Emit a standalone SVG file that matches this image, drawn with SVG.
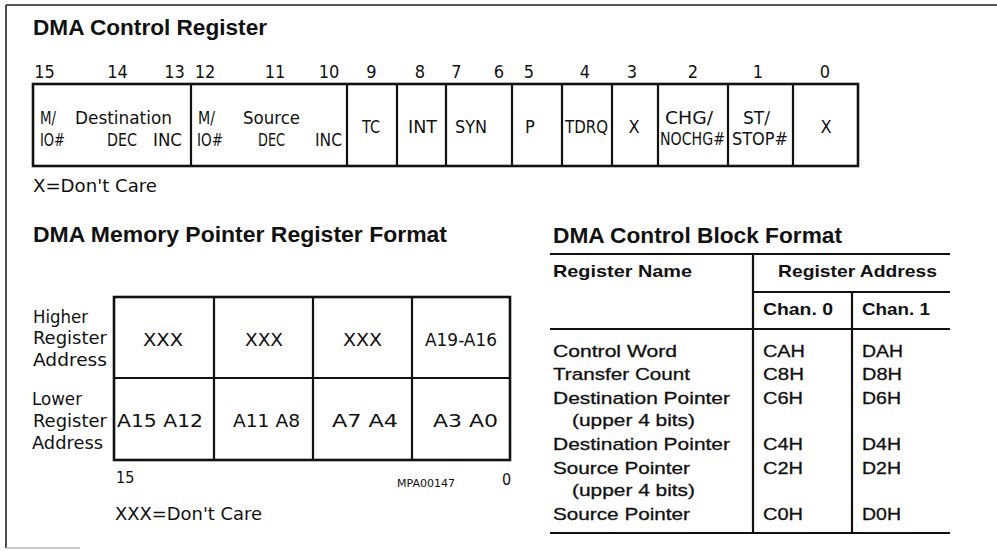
<svg xmlns="http://www.w3.org/2000/svg" width="997" height="551" viewBox="0 0 997 551">
<style>
text{fill:#111}
.hd{font-family:"Liberation Sans",Arial,sans-serif;font-weight:bold;font-size:22px}
.rg{font-family:"DejaVu Sans Condensed","DejaVu Sans",sans-serif;font-size:18px}
.sm{font-family:"DejaVu Sans Condensed","DejaVu Sans",sans-serif;font-size:11px}
.tb{font-family:"Liberation Sans",Arial,sans-serif;font-size:17px;stroke:#111;stroke-width:0.3}
.tbb{font-family:"Liberation Sans",Arial,sans-serif;font-size:17px;font-weight:bold}
.mid{text-anchor:middle}
.box{fill:#fff;stroke:#111;stroke-width:2.6}
.div{stroke:#111;stroke-width:2.2;fill:none}
.rule{stroke:#111;stroke-width:2.2;fill:none}
.frame{stroke:#222;stroke-width:1.6;fill:none}
</style>
<rect width="997" height="551" fill="#fff"/>
<g id="frame">
<path class="frame" d="M6,5 H997 M6,5 V548"/>
<path d="M6,548 H80" stroke="#bbb" stroke-width="1.5"/>
</g>

<!-- DMA Control Register -->
<g id="control-register">
<text class="hd" x="33" y="35" textLength="234" lengthAdjust="spacingAndGlyphs">DMA Control Register</text>
<g id="bit-numbers" class="rg mid">
<text x="44.5" y="78">15</text><text x="117.5" y="78">14</text><text x="174.5" y="78">13</text>
<text x="205" y="78">12</text><text x="275" y="78">11</text><text x="329" y="78">10</text>
<text x="371.5" y="78">9</text><text x="420" y="78">8</text><text x="456.5" y="78">7</text>
<text x="499" y="78">6</text><text x="529" y="78">5</text><text x="585" y="78">4</text>
<text x="632" y="78">3</text><text x="693" y="78">2</text><text x="758" y="78">1</text>
<text x="825" y="78">0</text>
</g>
<rect class="box" x="33" y="84" width="825" height="82"/>
<path class="div" d="M191,84V166 M347,84V166 M397,84V166 M446,84V166 M512,84V166 M562,84V166 M612,84V166 M658,84V166 M728,84V166 M793,84V166"/>
<g id="cell-dest">
<text class="rg" x="40" y="124" textLength="16" lengthAdjust="spacingAndGlyphs">M/</text>
<text class="rg" x="75" y="124" textLength="97" lengthAdjust="spacingAndGlyphs">Destination</text>
<text class="rg" x="40" y="146" textLength="25" lengthAdjust="spacingAndGlyphs">IO#</text>
<text class="rg" x="107" y="146" textLength="30" lengthAdjust="spacingAndGlyphs">DEC</text>
<text class="rg" x="153" y="146" textLength="29" lengthAdjust="spacingAndGlyphs">INC</text>
</g>
<g id="cell-src">
<text class="rg" x="198" y="124" textLength="17" lengthAdjust="spacingAndGlyphs">M/</text>
<text class="rg" x="243" y="124" textLength="57" lengthAdjust="spacingAndGlyphs">Source</text>
<text class="rg" x="197" y="146" textLength="26" lengthAdjust="spacingAndGlyphs">IO#</text>
<text class="rg" x="258" y="146" textLength="27" lengthAdjust="spacingAndGlyphs">DEC</text>
<text class="rg" x="315" y="146" textLength="27" lengthAdjust="spacingAndGlyphs">INC</text>
</g>
<g id="cell-tc"><text class="rg" x="362" y="133" textLength="18" lengthAdjust="spacingAndGlyphs">TC</text></g>
<g id="cell-int"><text class="rg" x="408" y="133" textLength="29" lengthAdjust="spacingAndGlyphs">INT</text></g>
<g id="cell-syn"><text class="rg" x="455" y="133" textLength="32" lengthAdjust="spacingAndGlyphs">SYN</text></g>
<g id="cell-p"><text class="rg mid" x="530" y="133">P</text></g>
<g id="cell-tdrq"><text class="rg" x="565" y="133" textLength="43" lengthAdjust="spacingAndGlyphs">TDRQ</text></g>
<g id="cell-x3"><text class="rg mid" x="634" y="133">X</text></g>
<g id="cell-chg">
<text class="rg" x="665" y="124" textLength="48" lengthAdjust="spacingAndGlyphs">CHG/</text>
<text class="rg" x="660" y="145" textLength="65" lengthAdjust="spacingAndGlyphs">NOCHG#</text>
</g>
<g id="cell-st">
<text class="rg" x="743" y="124" textLength="27" lengthAdjust="spacingAndGlyphs">ST/</text>
<text class="rg" x="732" y="145" textLength="56" lengthAdjust="spacingAndGlyphs">STOP#</text>
</g>
<g id="cell-x0"><text class="rg mid" x="826" y="133">X</text></g>
<text class="rg" x="33" y="192" textLength="124" lengthAdjust="spacingAndGlyphs">X=Don't Care</text>
</g>

<!-- DMA Memory Pointer Register Format -->
<g id="memory-pointer">
<text class="hd" x="33" y="242" textLength="414" lengthAdjust="spacingAndGlyphs">DMA Memory Pointer Register Format</text>
<g id="label-higher">
<text class="rg" x="33" y="323" textLength="55" lengthAdjust="spacingAndGlyphs">Higher</text>
<text class="rg" x="33" y="344" textLength="74" lengthAdjust="spacingAndGlyphs">Register</text>
<text class="rg" x="33" y="366" textLength="74" lengthAdjust="spacingAndGlyphs">Address</text>
</g>
<g id="label-lower">
<text class="rg" x="32" y="405" textLength="50" lengthAdjust="spacingAndGlyphs">Lower</text>
<text class="rg" x="33" y="427" textLength="74" lengthAdjust="spacingAndGlyphs">Register</text>
<text class="rg" x="32" y="449" textLength="71" lengthAdjust="spacingAndGlyphs">Address</text>
</g>
<rect class="box" x="114" y="297" width="396" height="163"/>
<path class="div" d="M114,378H510 M214,297V460 M313,297V460 M412,297V460"/>
<g id="mp-high">
<text class="rg" x="143" y="346" textLength="40" lengthAdjust="spacingAndGlyphs">XXX</text>
<text class="rg" x="245" y="346" textLength="38" lengthAdjust="spacingAndGlyphs">XXX</text>
<text class="rg" x="343" y="346" textLength="39" lengthAdjust="spacingAndGlyphs">XXX</text>
<text class="rg" x="425" y="346" textLength="72" lengthAdjust="spacingAndGlyphs">A19-A16</text>
</g>
<g id="mp-low">
<text class="rg" x="117" y="427" textLength="86" lengthAdjust="spacingAndGlyphs">A15  A12</text>
<text class="rg" x="233" y="427" textLength="67" lengthAdjust="spacingAndGlyphs">A11  A8</text>
<text class="rg" x="332" y="427" textLength="66" lengthAdjust="spacingAndGlyphs">A7  A4</text>
<text class="rg" x="433" y="427" textLength="65" lengthAdjust="spacingAndGlyphs">A3 A0</text>
</g>
<text class="rg" x="116" y="483" style="font-size:16px">15</text>
<text class="sm" x="397" y="487" textLength="58" lengthAdjust="spacingAndGlyphs">MPA00147</text>
<text class="rg" x="502" y="485" style="font-size:16px">0</text>
<text class="rg" x="115" y="520" textLength="147" lengthAdjust="spacingAndGlyphs">XXX=Don't Care</text>
</g>

<!-- DMA Control Block Format -->
<g id="control-block">
<text class="hd" x="553" y="243" textLength="289" lengthAdjust="spacingAndGlyphs">DMA Control Block Format</text>
<path class="rule" d="M550,254H950 M753,254V533 M753,292H950 M852,292V533 M550,329H950 M550,533H950"/>
<text class="tbb" x="553" y="277" textLength="139" lengthAdjust="spacingAndGlyphs">Register Name</text>
<text class="tbb" x="778" y="277" textLength="159" lengthAdjust="spacingAndGlyphs">Register Address</text>
<text class="tbb" x="763" y="315" textLength="70" lengthAdjust="spacingAndGlyphs">Chan. 0</text>
<text class="tbb" x="862" y="315" textLength="68" lengthAdjust="spacingAndGlyphs">Chan. 1</text>
<g id="row-control-word">
<text class="tb" x="553" y="357" textLength="124" lengthAdjust="spacingAndGlyphs">Control Word</text>
<text class="tb" x="763" y="357" textLength="42" lengthAdjust="spacingAndGlyphs">CAH</text>
<text class="tb" x="862" y="357" textLength="41" lengthAdjust="spacingAndGlyphs">DAH</text>
</g>
<g id="row-transfer-count">
<text class="tb" x="553" y="380" textLength="137" lengthAdjust="spacingAndGlyphs">Transfer Count</text>
<text class="tb" x="763" y="380" textLength="41" lengthAdjust="spacingAndGlyphs">C8H</text>
<text class="tb" x="862" y="380" textLength="40" lengthAdjust="spacingAndGlyphs">D8H</text>
</g>
<g id="row-dest-upper">
<text class="tb" x="553" y="404" textLength="177" lengthAdjust="spacingAndGlyphs">Destination Pointer</text>
<text class="tb" x="572" y="426" textLength="123" lengthAdjust="spacingAndGlyphs">(upper 4 bits)</text>
<text class="tb" x="763" y="404" textLength="40" lengthAdjust="spacingAndGlyphs">C6H</text>
<text class="tb" x="862" y="404" textLength="39" lengthAdjust="spacingAndGlyphs">D6H</text>
</g>
<g id="row-dest">
<text class="tb" x="553" y="450" textLength="177" lengthAdjust="spacingAndGlyphs">Destination Pointer</text>
<text class="tb" x="763" y="450" textLength="40" lengthAdjust="spacingAndGlyphs">C4H</text>
<text class="tb" x="862" y="450" textLength="39" lengthAdjust="spacingAndGlyphs">D4H</text>
</g>
<g id="row-src-upper">
<text class="tb" x="553" y="474" textLength="137" lengthAdjust="spacingAndGlyphs">Source Pointer</text>
<text class="tb" x="572" y="496" textLength="123" lengthAdjust="spacingAndGlyphs">(upper 4 bits)</text>
<text class="tb" x="763" y="474" textLength="40" lengthAdjust="spacingAndGlyphs">C2H</text>
<text class="tb" x="862" y="474" textLength="39" lengthAdjust="spacingAndGlyphs">D2H</text>
</g>
<g id="row-src">
<text class="tb" x="553" y="520" textLength="137" lengthAdjust="spacingAndGlyphs">Source Pointer</text>
<text class="tb" x="763" y="520" textLength="40" lengthAdjust="spacingAndGlyphs">C0H</text>
<text class="tb" x="862" y="520" textLength="39" lengthAdjust="spacingAndGlyphs">D0H</text>
</g>
</g>
</svg>
